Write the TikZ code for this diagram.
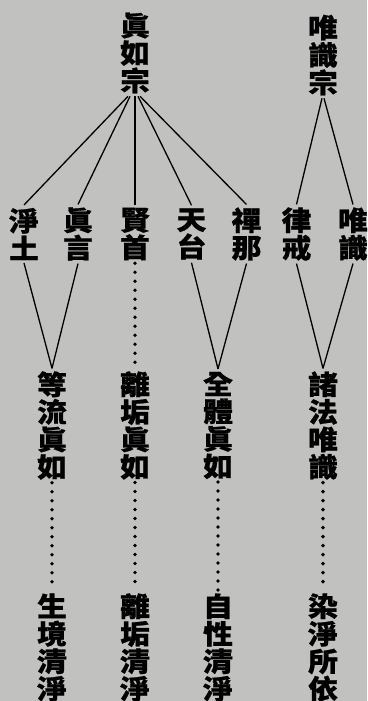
\documentclass[tikz,border=0pt]{standalone}
\usepackage{fontspec}
\newfontfamily\cjk[FakeStretch=1.1,BoldFeatures={FakeBold=0.8}]{Noto Sans CJK TC}
\usetikzlibrary{positioning}
\definecolor{paper}{RGB}{193,193,191}

\begin{document}
\begin{tikzpicture}
		[x=1pt,y=-1pt,word node/.style={align=center,inner sep=0pt,outer sep=3pt,font=\cjk\bfseries\fontsize{27}{27.5}\selectfont},
		dot line/.style={line width=3.8pt,line cap=round,dash pattern=on 0pt off 9pt}
		]
		
		\useasboundingbox (0,0) rectangle (367,701);
		\fill[paper] (0,0) rectangle (367,701);
		
		\node [word node] (1) at (135, 53) {眞\\如\\宗};
		\node [word node] (2) at (323, 55) {唯\\識\\宗};
		
		\node [word node] (3) at (24, 234) {淨\\土};
		\node [word node] (4) at (78, 234) {眞\\言};
		\node [word node] (5) at (135, 234) {賢\\首};
		\node [word node] (6) at (191.5, 234) {天\\台};
		\node [word node] (7) at (246.5, 234) {禪\\那};
		\node [word node] (8) at (296.5, 234) {律\\戒};
		\node [word node] (9) at (353, 234) {唯\\識};
		
		\node [word node] (10) at (52, 425.5) {等\\流\\眞\\如};
		\node [word node] (11) at (135, 425.5) {離\\垢\\眞\\如};
		\node [word node] (12) at (218, 425.5) {全\\體\\眞\\如};
		\node [word node] (13) at (323, 425.5) {諸\\法\\唯\\識};
		
		\node [word node] (14) at (52, 647.5) {生\\境\\清\\淨};
		\node [word node] (15) at (135, 647.5) {離\\垢\\清\\淨};
		\node [word node] (16) at (218, 647.5) {自\\性\\清\\淨};
		\node [word node] (17) at (323, 647.5) {染\\淨\\所\\依};
		
		\path[draw,line width=1.3pt]
		([xshift=-7pt]1.south) edge (3.north)
		([xshift=-5pt]1.south) edge (4.north)
		(1.south) edge (5.north)
		([xshift=3pt]1.south) edge (6.north)
		([xshift=5pt]1.south) edge (7.north)
		([xshift=-1pt]2.south) edge (8.north)
		([xshift=1pt]2.south) edge (9.north)
		
		(3.south) edge (10.north)
		(4.south) edge (10.north)
		(6.south) edge (12.north)
		(7.south) edge (12.north)
		(8.south) edge (13.north)
		(9.south) edge (13.north)
		;
		
		\path[dot line]
		(5.south) edge (11.north)
		(10.south) edge (14.north)
		(11.south) edge (15.north)
		(12.south) edge (16.north)
		(13.south) edge (17.north)
		;
		
\end{tikzpicture}
\end{document}
